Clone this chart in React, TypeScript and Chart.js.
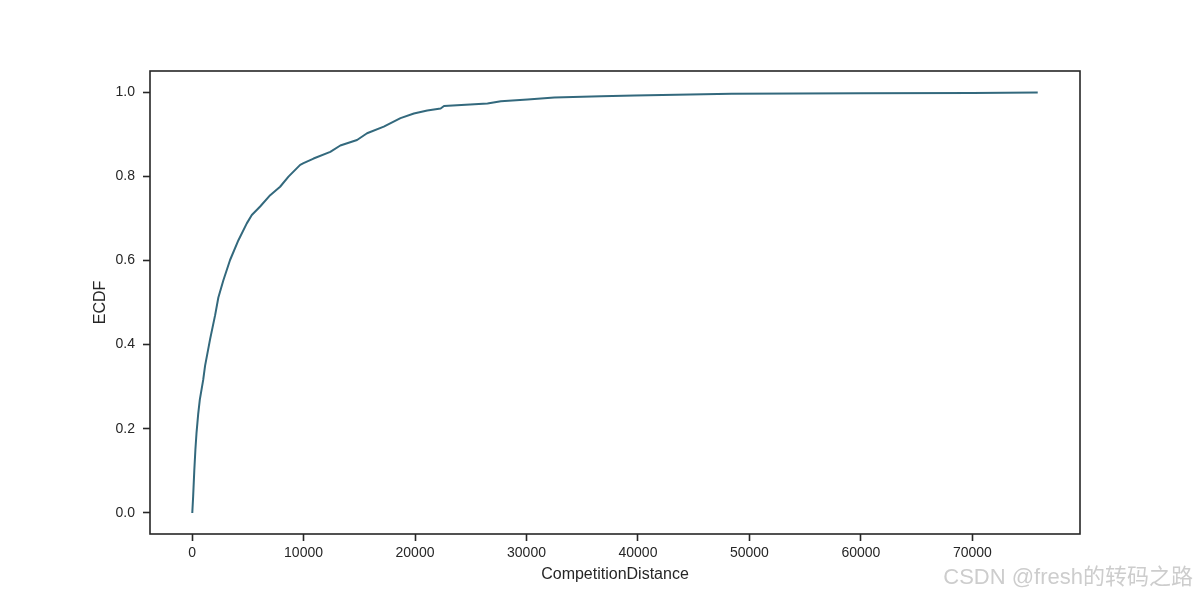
import React, { useEffect, useRef } from "react";
import { Chart, registerables } from "chart.js";

Chart.register(...registerables);

// CompetitionDistance values (x) and their ECDF proportion (y)
const DISTANCES = [
  20, 100, 200, 300, 400, 550, 700, 1000, 1170, 1620, 2070, 2360, 2810, 3410, 4160, 4910,
  5360, 6110, 7010, 7900, 8650, 9700, 10000, 10900, 12400, 13300, 14800, 15700, 17200,
  18700, 19900, 21100, 22300, 22600, 26500, 27700, 30100, 32500, 36700, 39700, 48400,
  60000, 70000, 75860,
];
const PROPORTIONS = [
  0.0, 0.04, 0.1, 0.15, 0.19, 0.235, 0.27, 0.316, 0.35, 0.413, 0.47, 0.512, 0.553, 0.601,
  0.648, 0.688, 0.708, 0.728, 0.755, 0.775, 0.799, 0.827, 0.831, 0.842, 0.858, 0.873,
  0.886, 0.902, 0.918, 0.938, 0.949, 0.956, 0.961, 0.967, 0.973, 0.978, 0.982, 0.987,
  0.99, 0.992, 0.996, 0.997, 0.998, 0.999,
];
const X_TICKS = [0, 10000, 20000, 30000, 40000, 50000, 60000, 70000];
const Y_TICKS = [0, 0.2, 0.4, 0.6, 0.8, 1.0];
const X_LABEL = "CompetitionDistance";
const Y_LABEL = "ECDF";
const WATERMARK = "CSDN @fresh的转码之路";

const INK = "#262626";
const LINE = "#33697d";
const FONT = "'Liberation Sans', Arial, sans-serif";

const framePlugin = {
  id: "frame",
  afterDraw(chart: any) {
    const { ctx, chartArea } = chart;
    ctx.save();
    ctx.strokeStyle = INK;
    ctx.lineWidth = 1.6;
    ctx.strokeRect(
      chartArea.left,
      chartArea.top,
      chartArea.right - chartArea.left,
      chartArea.bottom - chartArea.top
    );
    ctx.restore();
  },
};

export default function App() {
  const ref = useRef<HTMLCanvasElement | null>(null);

  useEffect(() => {
    if (!ref.current) return;
    const span = DISTANCES[DISTANCES.length - 1] - DISTANCES[0];
    const xMin = DISTANCES[0] - span * 0.05;
    const xMax = DISTANCES[DISTANCES.length - 1] + span * 0.05;
    const data = DISTANCES.map((d, i) => ({ x: d, y: PROPORTIONS[i] }));

    const chart = new Chart(ref.current, {
      type: "line",
      data: {
        datasets: [
          {
            data,
            borderColor: LINE,
            borderWidth: 2,
            pointRadius: 0,
            fill: false,
            tension: 0,
            borderJoinStyle: "round",
          },
        ],
      },
      options: {
        responsive: false,
        animation: false,
        layout: { padding: { top: 71, right: 120, left: 0, bottom: 0 } },
        plugins: { legend: { display: false }, tooltip: { enabled: false } },
        scales: {
          x: {
            type: "linear",
            min: xMin,
            max: xMax,
            border: { display: false },
            grid: {
              drawOnChartArea: false,
              drawTicks: true,
              tickLength: 7,
              tickWidth: 1.6,
              tickColor: INK,
            },
            ticks: {
              padding: 4,
              color: INK,
              font: { family: FONT, size: 14 },
              maxRotation: 0,
              callback: (v: any) => String(v),
            },
            afterBuildTicks: (s: any) => {
              s.ticks = X_TICKS.map((v) => ({ value: v }));
            },
            afterFit: (s: any) => {
              s.height = 66;
            },
            title: {
              display: true,
              text: X_LABEL,
              color: INK,
              font: { family: FONT, size: 16 },
              padding: { top: 0, bottom: 16 },
            },
          },
          y: {
            type: "linear",
            min: -0.05,
            max: 1.05,
            border: { display: false },
            grid: {
              drawOnChartArea: false,
              drawTicks: true,
              tickLength: 7,
              tickWidth: 1.6,
              tickColor: INK,
            },
            ticks: {
              padding: 8,
              color: INK,
              font: { family: FONT, size: 14 },
              callback: (v: any) => Number(v).toFixed(1),
            },
            afterBuildTicks: (s: any) => {
              s.ticks = Y_TICKS.map((v) => ({ value: v }));
            },
            afterFit: (s: any) => {
              s.width = 150;
            },
            title: {
              display: true,
              text: Y_LABEL,
              color: INK,
              font: { family: FONT, size: 16 },
              padding: { top: 91, bottom: 0 },
            },
          },
        },
      },
      plugins: [framePlugin],
    });
    return () => chart.destroy();
  }, []);

  return (
    <div
      style={{
        position: "fixed",
        left: 0,
        top: 0,
        width: 1200,
        height: 600,
        background: "#ffffff",
      }}
    >
      <canvas ref={ref} width={1200} height={600} style={{ width: 1200, height: 600 }} />
      <div
        style={{
          position: "absolute",
          right: 7,
          top: 564,
          fontFamily: "'Liberation Sans', 'Noto Sans CJK SC', sans-serif",
          fontSize: 22,
          fontWeight: 400,
          lineHeight: "26px",
          color: "#cdcdcd",
          whiteSpace: "nowrap",
        }}
      >
        {WATERMARK}
      </div>
    </div>
  );
}
